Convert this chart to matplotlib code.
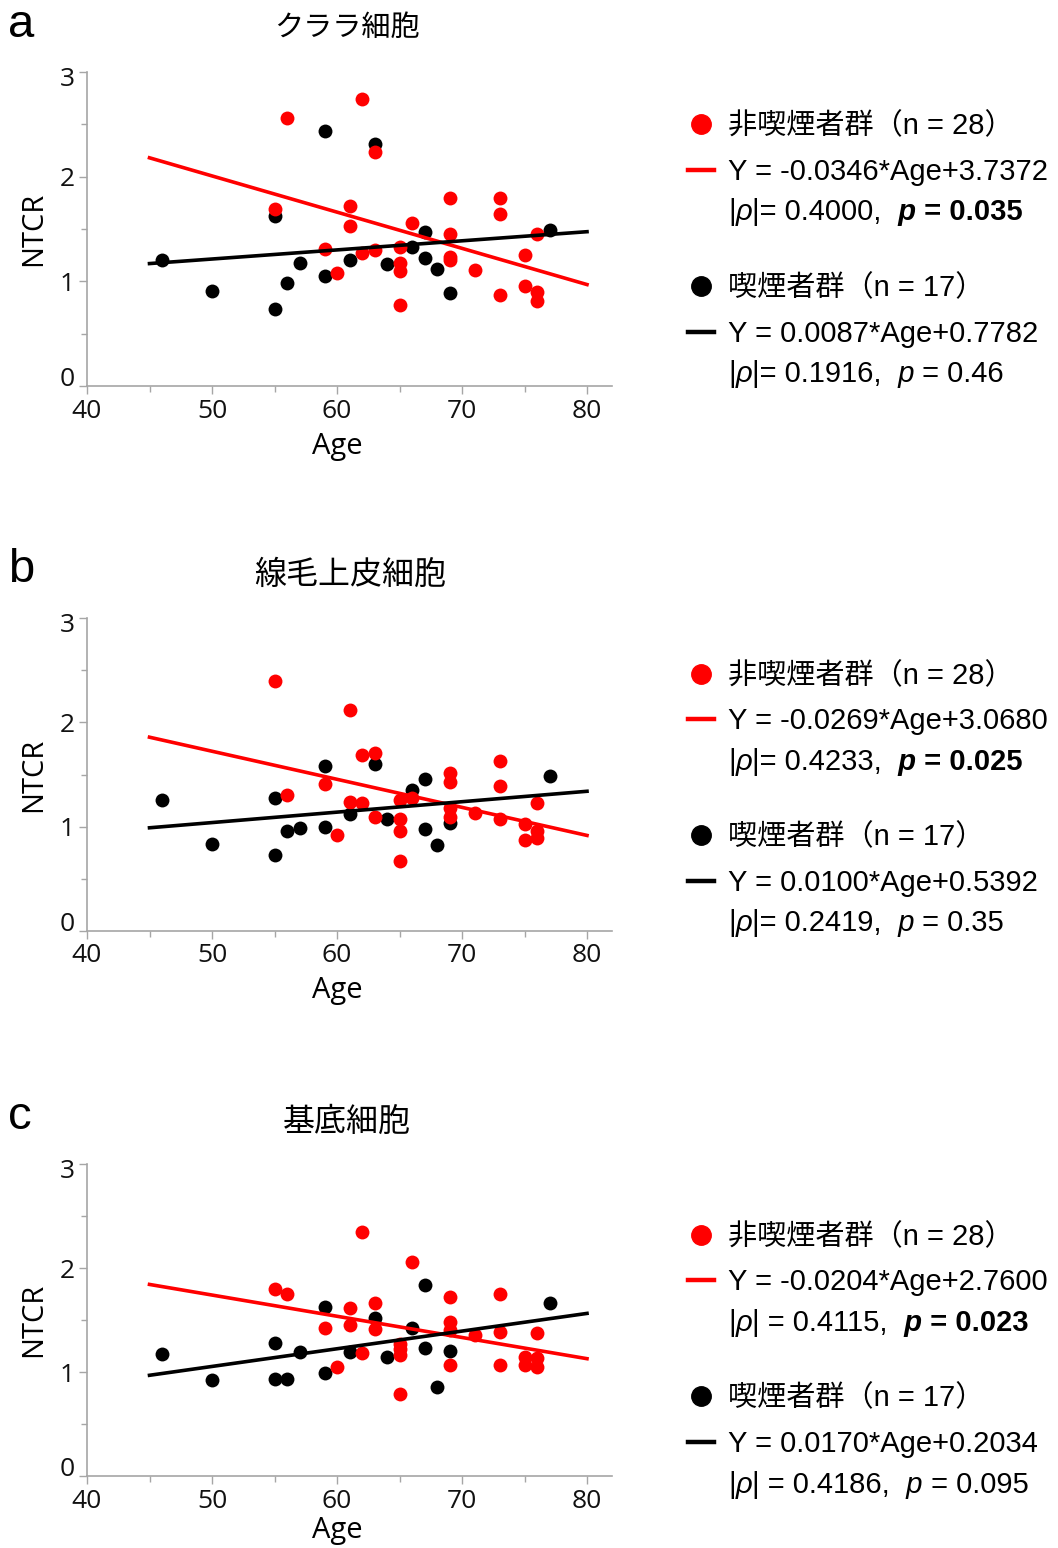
import numpy as np
import matplotlib
matplotlib.use('Agg')
import matplotlib.pyplot as plt
from matplotlib.lines import Line2D
from matplotlib.transforms import ScaledTranslation


#=====================================================
# Data
#-----------------------------------------------------
age_non = [55, 56, 59, 60, 61, 61, 62, 62, 63, 63, 65, 65, 65, 65, 66,
           69, 69, 69, 69, 71, 73, 73, 73, 75, 75, 76, 76, 76]
age_smk = [46, 50, 55, 55, 56, 57, 59, 59, 61, 63, 64, 66, 67, 67, 68, 69, 77]

clara_non = [1.69, 2.56, 1.31, 1.075, 1.72, 1.53, 2.74, 1.27, 2.24, 1.30,
             1.33, 1.175, 1.095, 0.77, 1.56, 1.80, 1.45, 1.23, 1.20, 1.11,
             1.80, 1.64, 0.87, 1.25, 0.96, 1.45, 0.90, 0.81]
clara_smk = [1.20, 0.91, 1.62, 0.74, 0.98, 1.175, 2.44, 1.05, 1.20, 2.31,
             1.165, 1.33, 1.475, 1.22, 1.12, 0.884, 1.49]

cilia_non = [2.395, 1.306, 1.41, 0.92, 2.12, 1.236, 1.685, 1.226, 1.71, 1.095,
             1.258, 1.076, 0.96, 0.67, 1.27, 1.51, 1.43, 1.18, 1.09, 1.13,
             1.63, 1.385, 1.07, 1.03, 0.87, 1.226, 0.96, 0.895]
cilia_smk = [1.255, 0.834, 1.274, 0.73, 0.96, 0.99, 1.58, 1.00, 1.12, 1.60,
             1.076, 1.35, 1.455, 0.98, 0.82, 1.035, 1.49]

basal_non = [1.794, 1.75, 1.42, 1.05, 1.615, 1.455, 2.343, 1.184, 1.66, 1.417,
             1.27, 1.22, 1.168, 0.79, 2.06, 1.717, 1.478, 1.404, 1.072, 1.357,
             1.75, 1.382, 1.063, 1.143, 1.063, 1.376, 1.136, 1.05]
basal_smk = [1.175, 0.922, 1.28, 0.93, 0.93, 1.194, 1.625, 0.993, 1.19, 1.52,
             1.143, 1.42, 1.84, 1.232, 0.852, 1.203, 1.663]

# regression fits (slope, intercept)
fit_non = [(-0.0346, 3.7372), (-0.0269, 3.0680), (-0.0204, 2.7600)]
fit_smk = [(0.0087, 0.7782), (0.0100, 0.5392), (0.0170, 0.2034)]

titles = ['クララ細胞', '線毛上皮細胞', '基底細胞']
letters = ['a', 'b', 'c']
n_non, n_smk = 28, 17
rho_non = ['0.4000', '0.4233', '0.4115']
p_non = ['0.035', '0.025', '0.023']
rho_smk = ['0.1916', '0.2419', '0.4186']
p_smk = ['0.46', '0.35', '0.095']

#=====================================================
# Layout
#-----------------------------------------------------
W, H = 1058, 1548
RED, BLACK, GREY = '#ff0000', '#000000', '#a6a6a6'
AX_LEFT, AX_RIGHT = 87, 612
ax_tops = [72, 618, 1164]
ax_bottoms = [386, 931, 1476]
title_y = [28, 575, 1122]
title_x = [347, 350, 347]
title_size = [21, 23, 23]
xlabel_y = [-0.145, -0.145, -0.128]
letter_y = [25, 570, 1117]
legend_y = [[124, 170, 210, 286, 332, 372],
            [674, 719, 760, 835, 881, 921],
            [1235, 1280, 1321, 1396, 1442, 1483]]
LEG_FONT = ['Liberation Sans', 'Noto Sans CJK JP']
AX_FONT = 'Open Sans'
LEG_SIZE = 21


def fx(px):
    return px / W


def fy(py):
    return 1 - py / H


def put_runs(fig, x_px, y_px, runs):
    '''Write text pieces left to right on one baseline.'''
    renderer = fig.canvas.get_renderer()
    x = x_px
    for s, style, weight in runs:
        t = fig.text(fx(x), fy(y_px), s, fontsize=LEG_SIZE, fontstyle=style,
                     fontweight=weight, family=LEG_FONT, va='baseline', ha='left')
        x += t.get_window_extent(renderer=renderer).width


fig = plt.figure(figsize=(W / 100, H / 100), dpi=100)

panels = [(clara_non, clara_smk), (cilia_non, cilia_smk), (basal_non, basal_smk)]
for i, (y_non, y_smk) in enumerate(panels):
    top, bot = ax_tops[i], ax_bottoms[i]
    ax = fig.add_axes([fx(AX_LEFT), fy(bot), (AX_RIGHT - AX_LEFT) / W, (bot - top) / H])

    ax.scatter(age_smk, y_smk, s=100, color=BLACK, zorder=3, linewidths=0)
    ax.scatter(age_non, y_non, s=100, color=RED, zorder=3, linewidths=0)

    xs = np.array([45, 80])
    a, b = fit_non[i]
    ax.plot(xs, a * xs + b, color=RED, lw=2.6, zorder=4)
    a, b = fit_smk[i]
    ax.plot(xs, a * xs + b, color=BLACK, lw=2.6, zorder=4)

    ax.set_xlim(40, 82)
    ax.set_ylim(0, 3)
    ax.set_xticks([40, 50, 60, 70, 80])
    ax.set_xticks([45, 55, 65, 75], minor=True)
    ax.set_yticks([0, 1, 2, 3])
    ax.set_yticks([0.5, 1.5, 2.5], minor=True)
    for sp in ['top', 'right']:
        ax.spines[sp].set_visible(False)
    for sp in ['left', 'bottom']:
        ax.spines[sp].set_color(GREY)
        ax.spines[sp].set_linewidth(1.2)
    ax.tick_params(which='major', length=6, width=1, color=GREY, labelsize=19, pad=3)
    ax.tick_params(which='minor', length=4, width=1, color=GREY)
    for lbl in ax.get_xticklabels() + ax.get_yticklabels():
        lbl.set_family(AX_FONT)
        lbl.set_color('#111111')
    # the 0 and 3 labels sit a bit inside the axis range
    yt = ax.yaxis.get_major_ticks()
    yt[0].label1.set_transform(yt[0].label1.get_transform() +
                               ScaledTranslation(0, 7 / 72, fig.dpi_scale_trans))
    yt[3].label1.set_transform(yt[3].label1.get_transform() +
                               ScaledTranslation(0, -3 / 72, fig.dpi_scale_trans))

    ax.set_xlabel('Age', fontsize=21, family=AX_FONT)
    ax.set_ylabel('NTCR', fontsize=21, family=AX_FONT)
    ax.xaxis.set_label_coords(0.476, xlabel_y[i])
    ax.yaxis.set_label_coords(-0.074, 0.5)

    fig.text(fx(title_x[i]), fy(title_y[i]), titles[i], fontsize=title_size[i],
             family='Noto Sans CJK JP', ha='center', va='center')
    fig.text(fx(8), fy(letter_y[i]), letters[i], fontsize=34,
             family='Liberation Sans', ha='left', va='center')

    # legend block at the right
    ly = legend_y[i]
    base = 10
    fig.add_artist(Line2D([fx(701)], [fy(ly[0])], marker='o', ms=14, color=RED, lw=0,
                          transform=fig.transFigure))
    fig.add_artist(Line2D([fx(688), fx(714)], [fy(ly[1])] * 2, color=RED, lw=3.2,
                          transform=fig.transFigure))
    fig.add_artist(Line2D([fx(701)], [fy(ly[3])], marker='o', ms=14, color=BLACK, lw=0,
                          transform=fig.transFigure))
    fig.add_artist(Line2D([fx(688), fx(714)], [fy(ly[4])] * 2, color=BLACK, lw=3.2,
                          transform=fig.transFigure))

    fig.text(fx(728), fy(ly[0] + base), '非喫煙者群（n = %d）' % n_non,
             fontsize=LEG_SIZE, family=LEG_FONT, va='baseline')
    a, b = fit_non[i]
    fig.text(fx(728), fy(ly[1] + base), 'Y = %.4f*Age+%.4f' % (a, b),
             fontsize=LEG_SIZE, family=LEG_FONT, va='baseline')
    eq = '| = ' if i == 2 else '|= '
    put_runs(fig, 728, ly[2] + base,
             [('|', 'normal', 'normal'), ('ρ', 'italic', 'normal'),
              (eq + rho_non[i] + ',', 'normal', 'normal'),
              ('  p', 'italic', 'bold'), (' = ' + p_non[i], 'normal', 'bold')])

    fig.text(fx(728), fy(ly[3] + base), '喫煙者群（n = %d）' % n_smk,
             fontsize=LEG_SIZE, family=LEG_FONT, va='baseline')
    a, b = fit_smk[i]
    fig.text(fx(728), fy(ly[4] + base), 'Y = %.4f*Age+%.4f' % (a, b),
             fontsize=LEG_SIZE, family=LEG_FONT, va='baseline')
    put_runs(fig, 728, ly[5] + base,
             [('|', 'normal', 'normal'), ('ρ', 'italic', 'normal'),
              (eq + rho_smk[i] + ',', 'normal', 'normal'),
              ('  p', 'italic', 'normal'), (' = ' + p_smk[i], 'normal', 'normal')])

fig.savefig('out.png', dpi=100)
